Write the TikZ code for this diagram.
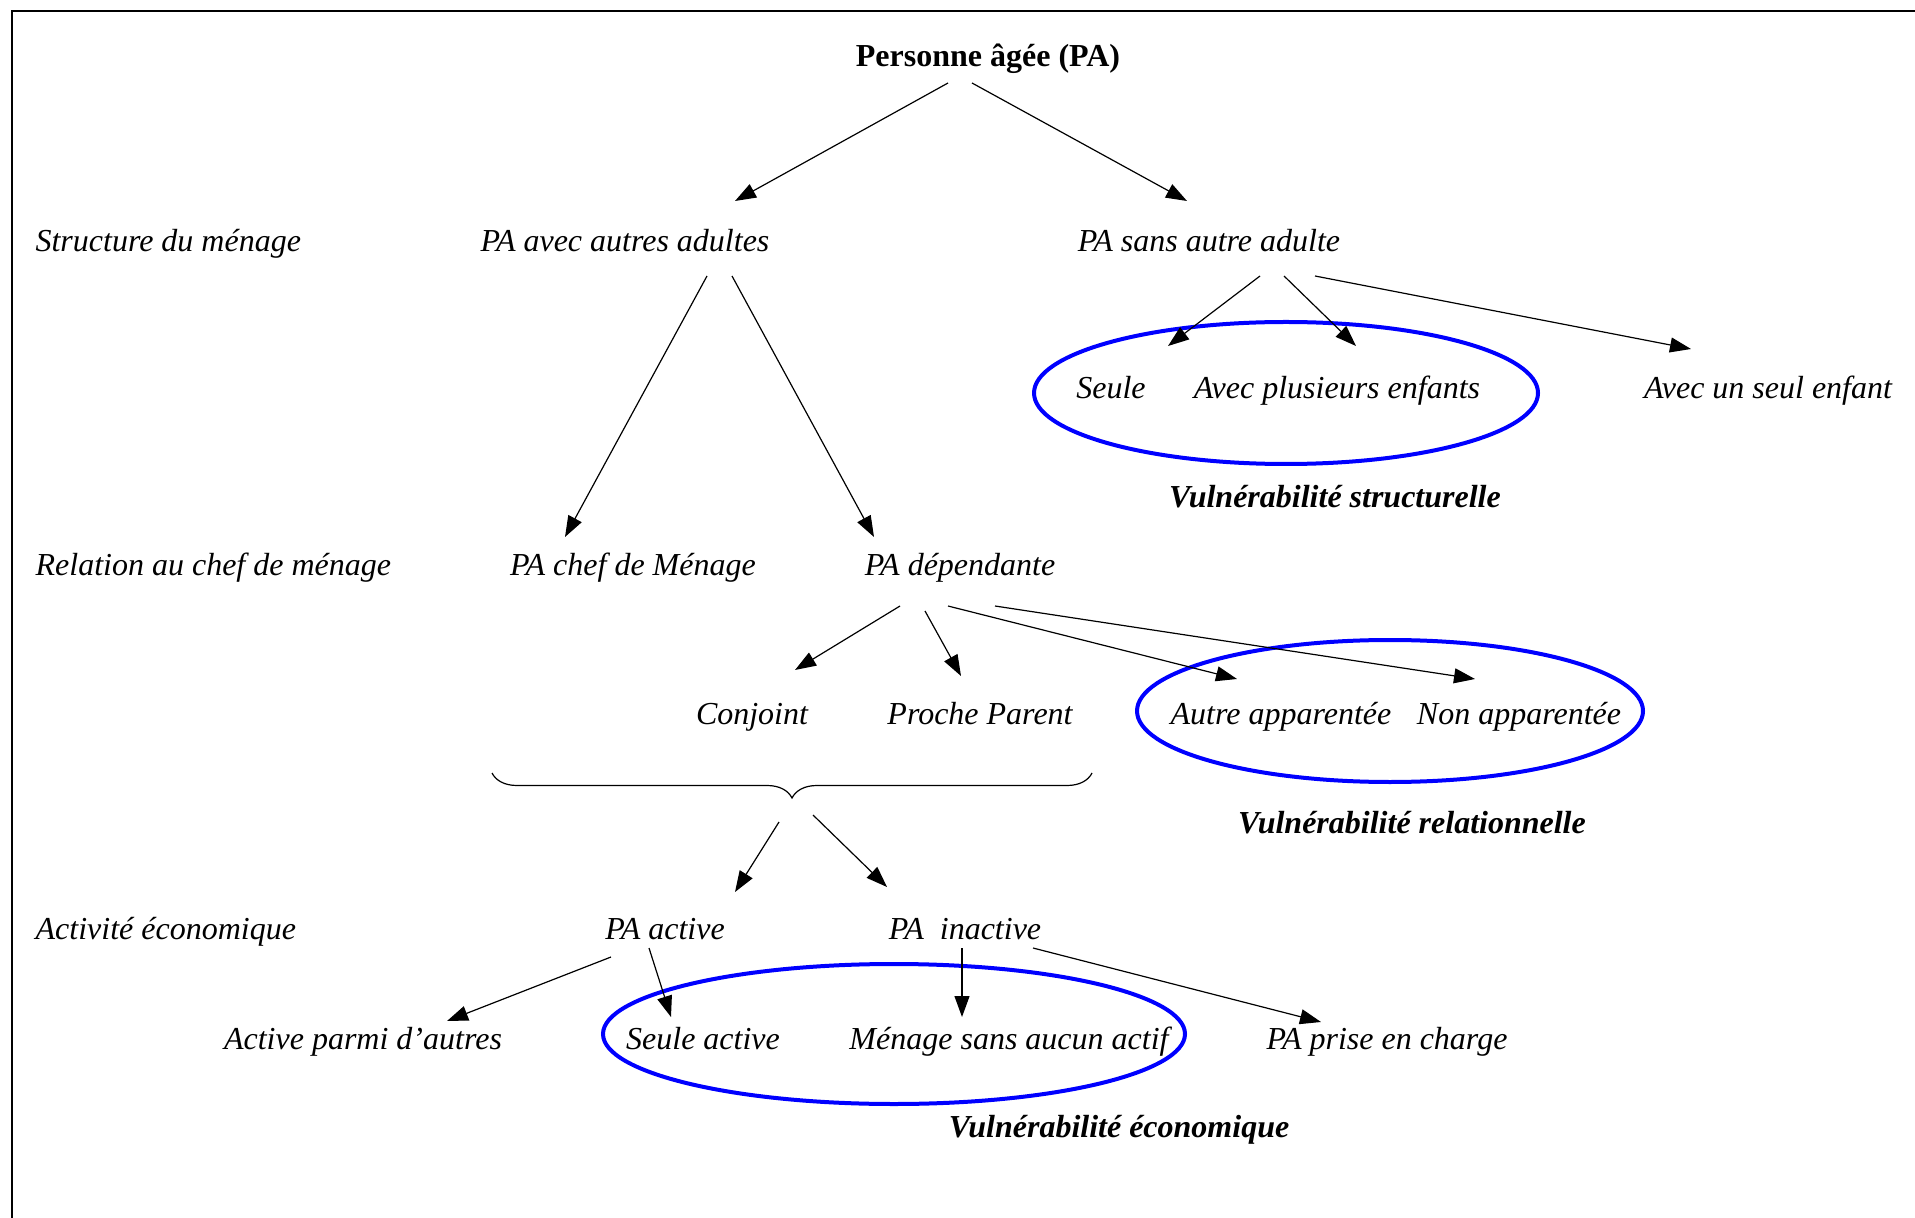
\documentclass[tikz,border=0pt]{standalone}
\usepackage{fontspec}
\setmainfont{Liberation Serif}
\usetikzlibrary{arrows.meta}
\usetikzlibrary{decorations.pathreplacing}

\begin{document}
\begin{tikzpicture}[x=0.5pt,y=-0.5pt,->,>={Triangle[length=10.5pt,width=7.5pt]},line width=0.6pt,
                    item node/.style={font=\fontsize{16}{19}\selectfont\itshape,inner sep=0pt,
                                      text height=13pt,text depth=2pt},
                    head node/.style={item node,font=\fontsize{16}{19}\selectfont\bfseries},
                    vuln node/.style={item node,font=\fontsize{16}{19}\selectfont\bfseries\itshape},
                    zone/.style={-,draw=blue,line width=2pt}]
                \useasboundingbox (0,0) rectangle (1915,1218);
                \draw[-,line width=1pt] (12,1218) -- (12,11) -- (1915,11);

                % niveaux
                \node[item node,anchor=west] (structure) at (35,241) {Structure du ménage};
                \node[item node,anchor=west] (relation) at (35,565) {Relation au chef de ménage};
                \node[item node,anchor=west] (activite) at (35,928) {Activité économique};

                \node[head node] (pa) at (988,56) {Personne âgée (PA)};
                \node[item node] (avec) at (625,241) {PA avec autres adultes};
                \node[item node] (sans) at (1209,241) {PA sans autre adulte};
                \node[item node] (seule) at (1111,388) {Seule};
                \node[item node] (plusieurs) at (1337,388) {Avec plusieurs enfants};
                \node[item node] (unseul) at (1768,388) {Avec un seul enfant};
                \node[item node] (chef) at (633,565) {PA chef de Ménage};
                \node[item node] (dep) at (960,565) {PA dépendante};
                \node[item node] (conj) at (752,713) {Conjoint};
                \node[item node] (proche) at (980,713) {Proche Parent};
                \node[item node] (autre) at (1281,713) {Autre apparentée};
                \node[item node] (nonapp) at (1519,713) {Non apparentée};
                \node[item node] (active) at (665,928) {PA active};
                \node[item node] (inactive) at (965,928) {PA\ \ inactive};
                \node[item node] (parmi) at (363,1038) {Active parmi d’autres};
                \node[item node] (seuleact) at (703,1038) {Seule active};
                \node[item node] (menage) at (1009,1038) {Ménage sans aucun actif};
                \node[item node] (prise) at (1387,1038) {PA prise en charge};

                % vulnerabilites
                \draw[zone] (1286,393) ellipse [x radius=252, y radius=71];
                \draw[zone] (1390,711) ellipse [x radius=253, y radius=71];
                \draw[zone] (894,1034) ellipse [x radius=291, y radius=70];
                \node[vuln node] (vstruct) at (1335,497) {Vulnérabilité structurelle};
                \node[vuln node] (vrel) at (1412,822) {Vulnérabilité relationnelle};
                \node[vuln node] (veco) at (1119,1126) {Vulnérabilité économique};

                \draw[-,decorate,decoration={brace,mirror,amplitude=12.5pt}] (492,773) -- (1092,773);
                \coordinate (accolade) at (792,798);

                \draw ([shift={(-40,27)}]pa.center) -- ([shift={(110,-40)}]avec.center);
                \draw ([shift={(-16,27)}]pa.center) -- ([shift={(-22,-40)}]sans.center);
                \draw ([shift={(82,35)}]avec.center) -- ([shift={(-68,-28)}]chef.center);
                \draw ([shift={(107,35)}]avec.center) -- ([shift={(-86,-28)}]dep.center);
                \draw ([shift={(51,35)}]sans.center) -- ([shift={(57,-42)}]seule.center);
                \draw ([shift={(75,35)}]sans.center) -- ([shift={(19,-42)}]plusieurs.center);
                \draw ([shift={(106,35)}]sans.center) -- ([shift={(-77,-39)}]unseul.center);
                \draw ([shift={(-60,41)}]dep.center) -- ([shift={(43,-43)}]conj.center);
                \draw ([shift={(-35,46)}]dep.center) -- ([shift={(-19,-37)}]proche.center);
                \draw ([shift={(-12,41)}]dep.center) -- ([shift={(-44,-34)}]autre.center);
                \draw ([shift={(35,41)}]dep.center) -- ([shift={(-44,-34)}]nonapp.center);
                \draw ([shift={(-13,24)}]accolade) -- ([shift={(70,-36)}]active.center);
                \draw ([shift={(21,17)}]accolade) -- ([shift={(-78,-41)}]inactive.center);
                \draw ([shift={(-54,29)}]active.center) -- ([shift={(84,-17)}]parmi.center);
                \draw ([shift={(-16,20)}]active.center) -- ([shift={(-32,-21)}]seuleact.center);
                \draw ([shift={(-3,20)}]inactive.center) -- ([shift={(-47,-21)}]menage.center);
                \draw ([shift={(68,20)}]inactive.center) -- ([shift={(-66,-16)}]prise.center);
\end{tikzpicture}
\end{document}
